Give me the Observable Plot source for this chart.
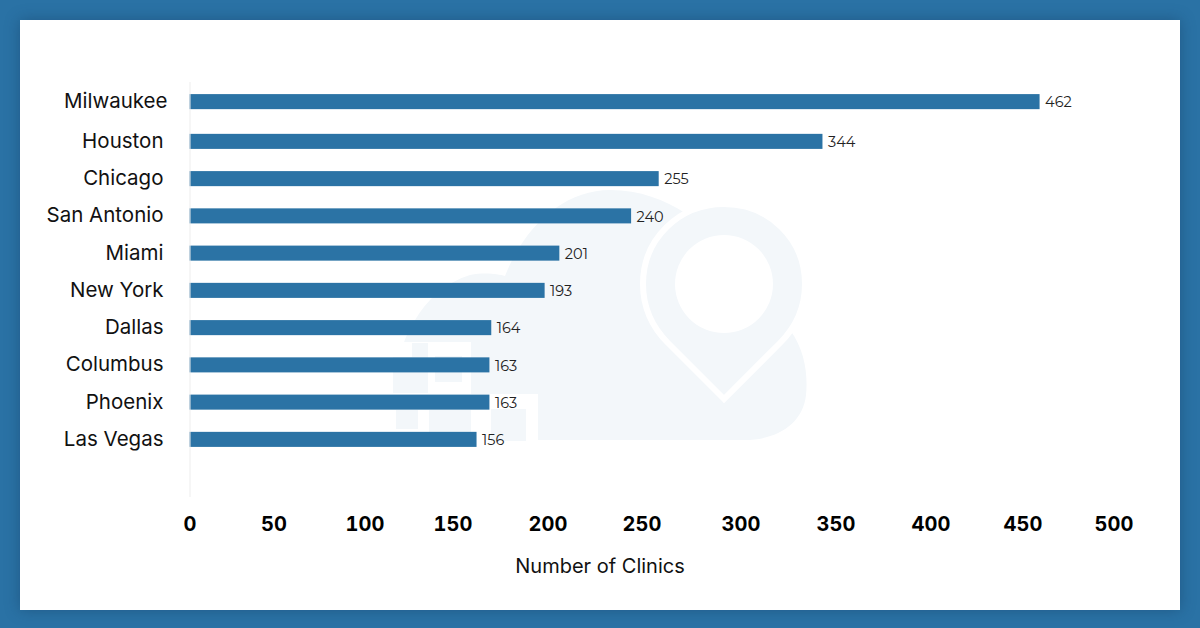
<!DOCTYPE html>
<html><head><meta charset="utf-8">
<script src="https://cdn.jsdelivr.net/npm/d3@7"></script>
<script src="https://cdn.jsdelivr.net/npm/@observablehq/plot@0.6"></script>
<style>
html,body{margin:0;padding:0;background:#fff}
#wrap{position:relative;width:1200px;height:628px;overflow:hidden;background:#2a72a5}
#frame{position:absolute;left:20px;top:20px;width:1160px;height:590px;background:#fff;box-shadow:0 0 14px rgba(20,60,95,.45)}
#mark,#plot{position:absolute;left:0;top:0}
#plot svg{background:transparent}
</style></head><body>
<div id="wrap"><div id="frame"></div>
<svg id="mark" width="1200" height="628" viewBox="0 0 1200 628">
<path fill="#f3f7fa" d="M538 440 L538 394 L471 394 L471 342 L395 342 L395 395 L393 385 C398 345 420 290 470 275 C485 272 498 274 505 276 C525 225 565 190 610 190 C640 190 665 200 685 213 L790 330 C805 350 808 375 806 395 C803 425 775 440 745 440 Z"/>
<rect x="393" y="342" width="78" height="52" fill="#fff"/>
<rect x="412" y="343" width="16" height="20" fill="#f3f7fa"/>
<rect x="393" y="357" width="35" height="36" fill="#f3f7fa"/>
<rect x="435" y="356" width="27" height="26" fill="#f3f7fa"/>
<rect x="396" y="410" width="22" height="19" fill="#f3f7fa"/>
<rect x="429" y="410" width="42" height="22" fill="#f3f7fa"/>
<rect x="491" y="409" width="35" height="32" fill="#f3f7fa"/>
<path fill="#f3f7fa" stroke="#fff" stroke-width="6" d="M724 399 L668 343 C650 325 643 305 643 284 C643 239 679 204 724 204 C769 204 805 239 805 284 C805 305 798 325 780 343 Z"/>
<circle cx="724" cy="284" r="49" fill="#fff"/>
</svg>
<div id="plot"></div></div>
<script>
const cities = ["Milwaukee","Houston","Chicago","San Antonio","Miami","New York","Dallas","Columbus","Phoenix","Las Vegas"];
const clinics = [462,344,255,240,201,193,164,163,163,156];
const xTicks = [0,50,100,150,200,250,300,350,400,450,500];
const xTitle = "Number of Clinics";

const rows = cities.map((city,i)=>({city,value:clinics[i]}));
const tickShift = [0,-8,-9,-13,-10,-8,-1,2,5,5,4];
const font = "Inter, Lato, sans-serif";
const BLUE = "#2b73a5";

const rowMarks = (data, dy, labelDx) => [
  Plot.barX(data,{x:"value",y:"city",dy,fill:BLUE,insetTop:11.1,insetBottom:11.1}),
  Plot.text(data,{x:"value",y:"city",text:d=>String(d.value),dx:5,dy:dy+0.5,textAnchor:"start",fontSize:14.5,fill:"#222",fontFamily:"Montserrat, Inter, sans-serif"}),
  Plot.axisY({ticks:data.map(d=>d.city),tickSize:0,tickPadding:0,dx:labelDx,dy:dy-0.5,fontSize:20.5,fontFamily:font,fill:"#111",label:null})
];

const chart = Plot.plot({
  width:1200,height:628,
  marginLeft:189.5,marginRight:90.5,marginTop:82,marginBottom:131,
  style:{background:"transparent",fontFamily:font,overflow:"visible"},
  x:{domain:[0,500],label:null},
  y:{domain:cities,type:"band",padding:0,round:false,range:[85.5,458],label:null},
  marks:[
    ...rowMarks(rows.slice(1),0,-26.5),
    ...rowMarks(rows.slice(0,1),-2.5,-22.5),
    Plot.ruleX([0],{stroke:"#ededed",strokeWidth:1}),
    ...xTicks.map((t,i)=>Plot.axisX({ticks:[t],tickSize:0,tickPadding:0,dx:tickShift[i],dy:19,fontSize:20,fontWeight:700,fontFamily:font,fill:"#000",label:null,tickFormat:d=>String(d)})),
    Plot.text([xTitle],{frameAnchor:"bottom",text:d=>d,dx:-50,dy:75,fontSize:20,fontFamily:font,fill:"#111"})
  ]
});
document.getElementById("plot").append(chart);
</script>
</body></html>
